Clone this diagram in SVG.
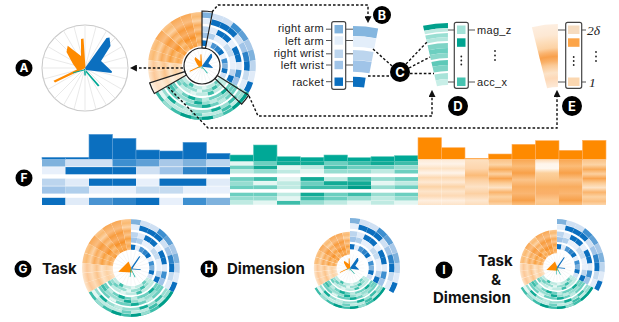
<svg xmlns="http://www.w3.org/2000/svg" width="619" height="322" viewBox="0 0 619 322">
<style>
.t{font-family:"Liberation Sans",Arial,sans-serif;font-size:11px;letter-spacing:.3px;fill:#222}
.bl{font-family:Inter,"Liberation Sans",sans-serif;font-size:15px;font-weight:700;fill:#111}
.it{font-family:"Liberation Serif",serif;font-style:italic;font-size:13.5px;fill:#222}
.lt{font-family:Inter,"Liberation Sans",sans-serif;font-weight:700;fill:#fff;text-anchor:middle}
.dl{fill:none;stroke:#111;stroke-width:1.4;stroke-dasharray:2.6 2}
.tk{stroke:#555;stroke-width:1;fill:none}
.lg{fill:#fff;stroke:#444;stroke-width:1.2}
.hb{fill:none;stroke:#222;stroke-width:1.2}
.sp{stroke:#e6e6e6;stroke-width:0.9;fill:none}
.a{fill:none}
</style>
<defs>
<marker id="ar" viewBox="0 0 8 8" refX="1" refY="4" markerWidth="7" markerHeight="7" markerUnits="userSpaceOnUse" orient="auto"><path d="M0,0L8,4L0,8z" fill="#111"/></marker>
<radialGradient id="og1" gradientUnits="userSpaceOnUse" cx="0" cy="0" r="54"><stop offset=".37" stop-color="#fcc58a"/><stop offset=".45" stop-color="#f9a850"/><stop offset=".52" stop-color="#fbc07e"/><stop offset=".6" stop-color="#f8a040"/><stop offset=".68" stop-color="#fbc48a"/><stop offset=".76" stop-color="#f9ab5a"/><stop offset=".84" stop-color="#fcd2a4"/><stop offset=".92" stop-color="#faba72"/><stop offset="1" stop-color="#fcc890"/></radialGradient>
<radialGradient id="og2" gradientUnits="userSpaceOnUse" cx="0" cy="0" r="54"><stop offset=".37" stop-color="#fde4c8"/><stop offset=".5" stop-color="#fcd1a2"/><stop offset=".6" stop-color="#fde3c6"/><stop offset=".7" stop-color="#fbc38a"/><stop offset=".8" stop-color="#fddcb8"/><stop offset=".9" stop-color="#fcc898"/><stop offset="1" stop-color="#fde6cc"/></radialGradient>
<radialGradient id="og3" gradientUnits="userSpaceOnUse" cx="0" cy="0" r="54"><stop offset=".37" stop-color="#f89a36"/><stop offset=".47" stop-color="#faae5c"/><stop offset=".55" stop-color="#f7922a"/><stop offset=".65" stop-color="#f9b068"/><stop offset=".75" stop-color="#f89c3e"/><stop offset=".85" stop-color="#fabd80"/><stop offset="1" stop-color="#f9a854"/></radialGradient>
<radialGradient id="oE" gradientUnits="userSpaceOnUse" cx="0" cy="0" r="108"><stop offset=".417" stop-color="#fde9d6"/><stop offset=".5" stop-color="#fdd9b8"/><stop offset=".55" stop-color="#fce3c8"/><stop offset=".62" stop-color="#fbc995"/><stop offset=".66" stop-color="#f9b068"/><stop offset=".7" stop-color="#f8a04c"/><stop offset=".74" stop-color="#fab470"/><stop offset=".78" stop-color="#fcd2a4"/><stop offset=".84" stop-color="#fdddba"/><stop offset=".9" stop-color="#fde8d3"/><stop offset="1" stop-color="#fdeee0"/></radialGradient>
<linearGradient id="oh1" x2="0" y2="1"><stop offset="0" stop-color="#fde9d4"/><stop offset=".1" stop-color="#fef3e8"/><stop offset=".2" stop-color="#fde2c4"/><stop offset=".3" stop-color="#fef4ea"/><stop offset=".4" stop-color="#fdd9b2"/><stop offset=".5" stop-color="#fee9d4"/><stop offset=".6" stop-color="#fcd3a6"/><stop offset=".7" stop-color="#fde5cb"/><stop offset=".8" stop-color="#fdd9b4"/><stop offset=".9" stop-color="#feefe0"/><stop offset="1" stop-color="#fde3c8"/></linearGradient>
<linearGradient id="oh2" x2="0" y2="1"><stop offset="0" stop-color="#fbc285"/><stop offset=".12" stop-color="#fcd4a6"/><stop offset=".22" stop-color="#f9ab5a"/><stop offset=".32" stop-color="#fcd0a0"/><stop offset=".42" stop-color="#f9a450"/><stop offset=".52" stop-color="#fccb94"/><stop offset=".62" stop-color="#fde3c6"/><stop offset=".72" stop-color="#fab46c"/><stop offset=".82" stop-color="#fcd2a2"/><stop offset=".92" stop-color="#fbbf80"/><stop offset="1" stop-color="#fcd6ac"/></linearGradient>
<linearGradient id="oh3" x2="0" y2="1"><stop offset="0" stop-color="#f9a650"/><stop offset=".15" stop-color="#fbbc78"/><stop offset=".3" stop-color="#f8a048"/><stop offset=".45" stop-color="#fbc48a"/><stop offset=".6" stop-color="#f9ac5e"/><stop offset=".75" stop-color="#fab672"/><stop offset=".9" stop-color="#f7a04a"/><stop offset="1" stop-color="#fbc080"/></linearGradient>
<linearGradient id="oh4" x2="0" y2="1"><stop offset="0" stop-color="#fdd8b0"/><stop offset=".1" stop-color="#fef5ec"/><stop offset=".2" stop-color="#fef7ef"/><stop offset=".3" stop-color="#fcd09c"/><stop offset=".45" stop-color="#fbc487"/><stop offset=".6" stop-color="#f9ae60"/><stop offset=".75" stop-color="#fab06a"/><stop offset=".9" stop-color="#fcc890"/><stop offset="1" stop-color="#fbc488"/></linearGradient>
<linearGradient id="oh5" x2="0" y2="1"><stop offset="0" stop-color="#fde0c0"/><stop offset=".2" stop-color="#fdd6ae"/><stop offset=".35" stop-color="#fbbb78"/><stop offset=".45" stop-color="#fccfa0"/><stop offset=".6" stop-color="#fde2c6"/><stop offset=".75" stop-color="#fcd0a2"/><stop offset=".9" stop-color="#fde7d0"/><stop offset="1" stop-color="#fdddbb"/></linearGradient>
<rect id="tc" width="23.5" height="3.8"/>
<rect id="bc" width="23.5" height="7.2"/>
<circle id="b1" class="a" r="51" stroke-width="5.6" pathLength="360"/>
<circle id="b2" class="a" r="45" stroke-width="5.6" pathLength="360"/>
<circle id="b3" class="a" r="37" stroke-width="5.6" pathLength="360"/>
<circle id="b4" class="a" r="31" stroke-width="5.6" pathLength="360"/>
<circle id="b5" class="a" r="23" stroke-width="5.6" pathLength="360"/>
<circle id="t0" class="a" r="21.7" stroke-width="3.1" pathLength="360"/>
<circle id="t1" class="a" r="25.1" stroke-width="3.1" pathLength="360"/>
<circle id="t2" class="a" r="28.5" stroke-width="3.1" pathLength="360"/>
<circle id="t3" class="a" r="33.6" stroke-width="3.1" pathLength="360"/>
<circle id="t4" class="a" r="37" stroke-width="3.1" pathLength="360"/>
<circle id="t5" class="a" r="40.4" stroke-width="3.1" pathLength="360"/>
<circle id="t6" class="a" r="45.5" stroke-width="3.1" pathLength="360"/>
<circle id="t7" class="a" r="48.9" stroke-width="3.1" pathLength="360"/>
<circle id="t8" class="a" r="52.3" stroke-width="3.1" pathLength="360"/>
<g id="bs" stroke-dasharray="12 999">
<g transform="rotate(-90)"><use href="#b1" stroke="#7fb2dd"/><use href="#b2" stroke="#e3eefa"/><use href="#b3" stroke="#bcd5ee"/><use href="#b4" stroke="#a0c4e8"/><use href="#b5" stroke="#0b6fbf"/></g>
<g transform="rotate(-78)"><use href="#b1" stroke="#cfe0f3"/><use href="#b2" stroke="#0b6fbf"/><use href="#b3" stroke="#e0ebf8"/><use href="#b4" stroke="#b0cfec"/><use href="#b5" stroke="#e0ebf8"/></g>
<g transform="rotate(-66)"><use href="#b1" stroke="#cfe0f3"/><use href="#b2" stroke="#0b6fbf"/><use href="#b3" stroke="#0b6fbf"/><use href="#b4" stroke="#e8f0fb"/><use href="#b5" stroke="#4a94d2"/></g>
<g transform="rotate(-54)"><use href="#b1" stroke="#3d8fd0"/><use href="#b2" stroke="#0b6fbf"/><use href="#b3" stroke="#0b6fbf"/><use href="#b4" stroke="#e8f0fb"/><use href="#b5" stroke="#2e83c8"/></g>
<g transform="rotate(-42)"><use href="#b1" stroke="#5fa0d6"/><use href="#b2" stroke="#cfe0f3"/><use href="#b3" stroke="#e8f0fb"/><use href="#b4" stroke="#c5dbf0"/><use href="#b5" stroke="#0b6fbf"/></g>
<g transform="rotate(-30)"><use href="#b1" stroke="#a8c8e8"/><use href="#b2" stroke="#a0c4e8"/><use href="#b3" stroke="#0b6fbf"/><use href="#b4" stroke="#c5dbf0"/><use href="#b5" stroke="#e8f0fb"/></g>
<g transform="rotate(-18)"><use href="#b1" stroke="#7fb2dd"/><use href="#b2" stroke="#2e83c8"/><use href="#b3" stroke="#0b6fbf"/><use href="#b4" stroke="#e8f0fb"/><use href="#b5" stroke="#3d8fd0"/></g>
<g transform="rotate(-6)"><use href="#b1" stroke="#bcd5ee"/><use href="#b2" stroke="#0b6fbf"/><use href="#b3" stroke="#e0ebf8"/><use href="#b4" stroke="#e8f0fb"/><use href="#b5" stroke="#7fb2dd"/></g>
<g transform="rotate(6)"><use href="#b1" stroke="#e0ebf8"/><use href="#b2" stroke="#c5dbf0"/><use href="#b3" stroke="#3d8fd0"/><use href="#b4" stroke="#bcd5ee"/><use href="#b5" stroke="#0b6fbf"/></g>
<g transform="rotate(18)"><use href="#b1" stroke="#0b6fbf"/><use href="#b2" stroke="#e0ebf8"/><use href="#b3" stroke="#a0c4e8"/><use href="#b4" stroke="#0b6fbf"/><use href="#b5" stroke="#cfe0f3"/></g>
</g>
<g id="ts">
<g stroke-dasharray="120 999" transform="rotate(30)"><use href="#t0" stroke="#bfeae2"/><use href="#t1" stroke="#97ddd1"/><use href="#t2" stroke="#bfeae2"/><use href="#t3" stroke="#6ccfc0"/><use href="#t4" stroke="#97ddd1"/><use href="#t5" stroke="#6ccfc0"/><use href="#t6" stroke="#97ddd1"/><use href="#t7" stroke="#bfeae2"/><use href="#t8" stroke="#3dbdaa"/></g>
<g stroke-dasharray="12 999">
<use href="#t0" transform="rotate(42)" stroke="#6ccfc0"/><use href="#t0" transform="rotate(78)" stroke="#e3f6f2"/><use href="#t0" transform="rotate(114)" stroke="#3dbdaa"/>
<use href="#t1" transform="rotate(30)" stroke="#bfeae2"/><use href="#t1" transform="rotate(54)" stroke="#3dbdaa"/><use href="#t1" transform="rotate(90)" stroke="#e3f6f2"/><use href="#t1" transform="rotate(126)" stroke="#6ccfc0"/>
<use href="#t2" transform="rotate(66)" stroke="#3dbdaa"/><use href="#t2" transform="rotate(102)" stroke="#e3f6f2"/><use href="#t2" transform="rotate(138)" stroke="#6ccfc0"/>
<use href="#t3" transform="rotate(42)" stroke="#12ab96"/><use href="#t3" transform="rotate(78)" stroke="#bfeae2"/><use href="#t3" transform="rotate(102)" stroke="#12ab96"/><use href="#t3" transform="rotate(126)" stroke="#bfeae2"/>
<use href="#t4" transform="rotate(30)" stroke="#6ccfc0"/><use href="#t4" transform="rotate(66)" stroke="#bfeae2"/><use href="#t4" transform="rotate(90)" stroke="#12ab96"/><use href="#t4" transform="rotate(138)" stroke="#3dbdaa"/>
<use href="#t5" transform="rotate(54)" stroke="#bfeae2"/><use href="#t5" transform="rotate(78)" stroke="#12ab96"/><use href="#t5" transform="rotate(114)" stroke="#e3f6f2"/>
<use href="#t6" transform="rotate(42)" stroke="#3dbdaa"/><use href="#t6" transform="rotate(66)" stroke="#12ab96"/><use href="#t6" transform="rotate(102)" stroke="#bfeae2"/><use href="#t6" transform="rotate(126)" stroke="#12ab96"/>
<use href="#t7" transform="rotate(30)" stroke="#97ddd1"/><use href="#t7" transform="rotate(54)" stroke="#3dbdaa"/><use href="#t7" transform="rotate(90)" stroke="#6ccfc0"/><use href="#t7" transform="rotate(138)" stroke="#e3f6f2"/>
<use href="#t8" transform="rotate(30)" stroke="#009e8a"/><use href="#t8" transform="rotate(42)" stroke="#009e8a"/><use href="#t8" transform="rotate(66)" stroke="#97ddd1"/><use href="#t8" transform="rotate(78)" stroke="#009e8a"/><use href="#t8" transform="rotate(102)" stroke="#009e8a"/><use href="#t8" transform="rotate(126)" stroke="#97ddd1"/>
</g>
</g>
<g id="os" class="a" stroke-width="34" stroke-dasharray="12 999">
<circle r="37" pathLength="360" transform="rotate(150)" stroke="url(#og2)"/>
<circle r="37" pathLength="360" transform="rotate(162)" stroke="url(#og2)"/>
<circle r="37" pathLength="360" transform="rotate(174)" stroke="url(#og2)"/>
<circle r="37" pathLength="360" transform="rotate(186)" stroke="url(#og1)"/>
<circle r="37" pathLength="360" transform="rotate(198)" stroke="url(#og1)"/>
<circle r="37" pathLength="360" transform="rotate(210)" stroke="url(#og3)"/>
<circle r="37" pathLength="360" transform="rotate(222)" stroke="url(#og1)"/>
<circle r="37" pathLength="360" transform="rotate(234)" stroke="url(#og3)"/>
<circle r="37" pathLength="360" transform="rotate(246)" stroke="url(#og3)"/>
<circle r="37" pathLength="360" transform="rotate(258)" stroke="url(#og1)"/>
</g>
<path id="spk" class="sp" d="M0,-43V43M11.1,-41.5L-11.1,41.5M21.5,-37.2L-21.5,37.2M30.4,-30.4L-30.4,30.4M37.2,-21.5L-37.2,21.5M41.5,-11.1L-41.5,11.1M-43,0H43M41.5,11.1L-41.5,-11.1M37.2,21.5L-37.2,-21.5M30.4,30.4L-30.4,-30.4M21.5,37.2L-21.5,-37.2M11.1,41.5L-11.1,-41.5"/>
<g id="gl"><use href="#spk"/>
<path fill="#fe8a00" d="M-4,-29L-1.5,-29.5L0.5,0L-30,14.5L-31.5,12.8L-8,1.5L-12,-4L-18.5,-16L-17.3,-22.3L-4,-12Z"/>
<path fill="#0b6fbf" d="M0,0L21.5,-30L24.5,-30.5L25.5,-22L16,-7L27,3.5L26.5,5L1,2Z"/>
<path fill="#00a896" d="M0,1L14.5,17.5L13,18.5L-1,2ZM-1,1L-0.6,7.5L0.8,7.5L0.6,1ZM0,1.2L-12,4.2L-12,5.2L0,2.2Z"/>
</g>
<g id="gl2"><use href="#spk"/>
<path fill="#fe8a00" d="M-31,9L-6,-16L1,1L2,11Z"/>
<path fill="#0b6fbf" d="M0,0L20,-29L23,-28L3,2ZM1,1L24,3L23.5,5L0,3Z"/>
<path fill="#00a896" d="M0,1L11,22L9.5,23L-1,2ZM-1,2L-3,22L-1.5,22L0.5,2Z"/>
</g>
</defs>

<g id="chartA" transform="translate(85,68)">
<circle r="43" fill="#fff" stroke="#c9c9c9" stroke-width="1.1"/>
<use href="#gl"/>
</g>

<g id="mainRadial" transform="translate(202,66)">
<use href="#bs"/><use href="#ts"/><use href="#os"/>
<circle r="18" fill="#fff" stroke="#222" stroke-width="1.2"/>
<use href="#gl" transform="scale(0.4)"/>
<path class="hb" d="M0,-18L0,-55A55,55 0 0 1 10.49,-53.99L3.43,-17.67A18,18 0 0 0 0,-18Z"/>
<path class="hb" d="M15.26,9.54L46.64,29.14A55,55 0 0 1 39.56,38.21L12.95,12.5A18,18 0 0 0 15.26,9.54Z"/>
<path class="hb" style="fill:#fff;fill-opacity:.4" d="M-15.59,9L-47.63,27.5A55,55 0 0 1 -52.31,17L-17.12,5.56A18,18 0 0 0 -15.59,9Z"/>
</g>

<g id="wedgeB" transform="translate(353,158) rotate(-90)" fill="none" stroke-dasharray="11 999">
<circle r="127" stroke-width="10" stroke="#84b6df" pathLength="360"/>
<circle r="116.5" stroke-width="10.4" stroke="#e3eefa" pathLength="360"/>
<circle r="103" stroke-width="10" stroke="#bcd5ee" pathLength="360"/>
<circle r="92" stroke-width="11.4" stroke="#a0c4e8" pathLength="360"/>
<circle r="76.3" stroke-width="10" stroke="#0b6fbf" pathLength="360" stroke-dasharray="9 999"/>
</g>
<g id="legendB">
<path class="tk" d="M326,29.2H332M346,29.2H353M326,40.5H332M346,40.5H353M326,53.8H332M346,53.8H353M326,65H332M346,65H353M326,81.7H332M346,81.7H353"/>
<rect class="lg" x="331.7" y="21.7" width="14" height="67.6" rx="2"/>
<rect x="334.5" y="25" width="8.5" height="8.4" fill="#7fb2dd"/>
<rect x="334.5" y="36.3" width="8.5" height="8.4" fill="#e3eefa"/>
<rect x="334.5" y="49.6" width="8.5" height="8.4" fill="#bcd5ee"/>
<rect x="334.5" y="60.8" width="8.5" height="8.4" fill="#a0c4e8"/>
<rect x="334.5" y="77.5" width="8.5" height="8.4" fill="#0b6fbf"/>
<g class="t" text-anchor="end">
<text x="324" y="32.2">right arm</text>
<text x="324" y="44.7">left arm</text>
<text x="324" y="56.9">right wrist</text>
<text x="324" y="69.4">left wrist</text>
<text x="324" y="85.6">racket</text>
</g>
</g>

<g id="wedgeD" transform="translate(448,134) rotate(-103)" fill="none" stroke-dasharray="13 999">
<circle r="108.5" stroke-width="5" stroke="#00a08c" pathLength="360"/>
<circle r="104.2" stroke-width="3.5" stroke="#bfeae2" pathLength="360"/>
<circle r="99" stroke-width="4" stroke="#9adfd3" pathLength="360"/>
<circle r="95" stroke-width="4" stroke="#b5e7de" pathLength="360"/>
<circle r="88.5" stroke-width="5" stroke="#7fd4c6" pathLength="360"/>
<circle r="83.5" stroke-width="5" stroke="#6ccfc0" pathLength="360"/>
<circle r="78.5" stroke-width="5" stroke="#8ad8cb" pathLength="360"/>
<circle r="71.5" stroke-width="5" stroke="#5ec9b8" pathLength="360"/>
<circle r="66" stroke-width="6" stroke="#7dd3c5" pathLength="360"/>
<circle r="58" stroke-width="6" stroke="#a8e3d9" pathLength="360"/>
<circle r="52" stroke-width="6" stroke="#c8eee7" pathLength="360"/>
</g>
<g id="legendD">
<path class="tk" d="M448,30H454M468,30H475M448,82H454M468,82H475"/>
<rect class="lg" x="454.3" y="22.3" width="14" height="66" rx="2"/>
<rect x="457" y="25.5" width="8.5" height="8.5" fill="#a3e2d8"/>
<rect x="457" y="38.3" width="8.5" height="8.5" fill="#00a390"/>
<rect x="457" y="77.5" width="8.5" height="8.5" fill="#46c2b0"/>
<g fill="#222"><circle cx="461.3" cy="56.5" r="0.9"/><circle cx="461.3" cy="60.5" r="0.9"/><circle cx="461.3" cy="64.5" r="0.9"/>
<circle cx="495" cy="51" r="0.9"/><circle cx="495" cy="55.5" r="0.9"/><circle cx="495" cy="60" r="0.9"/></g>
<text class="t" x="477" y="34">mag_z</text>
<text class="t" x="477" y="86">acc_x</text>
</g>

<g id="wedgeE" transform="translate(558,132)">
<circle r="76.5" fill="none" stroke-width="63" stroke="url(#oE)" pathLength="360" stroke-dasharray="14 999" transform="rotate(-104)"/>
</g>
<g id="legendE">
<path class="tk" d="M558,30H566M582,30H586M558,82H566M582,82H586"/>
<rect class="lg" x="565.7" y="22.3" width="16" height="66" rx="2"/>
<rect x="568" y="25.5" width="11.5" height="8.5" fill="#f6dcc0"/>
<rect x="568" y="38.3" width="11.5" height="8.5" fill="#fca448"/>
<rect x="568" y="77.5" width="11.5" height="8.5" fill="#fbd7b0"/>
<g fill="#222"><circle cx="573.7" cy="57" r="0.9"/><circle cx="573.7" cy="61" r="0.9"/><circle cx="573.7" cy="65" r="0.9"/>
<circle cx="596" cy="52" r="0.9"/><circle cx="596" cy="56.5" r="0.9"/><circle cx="596" cy="61" r="0.9"/></g>
<text class="it" x="587" y="35">2δ</text>
<text class="it" x="589" y="87">1</text>
</g>

<g id="heatmapF">
<g fill="#0b6fbf" stroke="#5d9fd8" stroke-width="0.6">
<rect x="42" y="157.3" width="23.5" height="2"/><rect x="65.5" y="157.3" width="23.5" height="2"/><rect x="89" y="134.3" width="23.5" height="25"/><rect x="112.5" y="138.3" width="23.5" height="21"/><rect x="136" y="150" width="23.5" height="9.3"/><rect x="159.5" y="151" width="23.5" height="8.3"/><rect x="183" y="142.3" width="23.5" height="17"/><rect x="206.5" y="153.3" width="23.5" height="6"/>
</g>
<g fill="#00a896" stroke="#5cc9b9" stroke-width="0.6">
<rect x="230" y="155" width="23.5" height="6.5"/><rect x="253.5" y="145" width="23.5" height="16.5"/><rect x="277" y="156.7" width="23.5" height="4.8"/><rect x="300.5" y="157.3" width="23.5" height="4.2"/><rect x="324" y="155" width="23.5" height="6.5"/><rect x="347.5" y="157.7" width="23.5" height="3.8"/><rect x="371" y="156.7" width="23.5" height="4.8"/><rect x="394.5" y="155.7" width="23.5" height="5.8"/>
</g>
<g fill="#fe8a00" stroke="#ffb060" stroke-width="0.6">
<rect x="418" y="137.7" width="23.5" height="21.6"/><rect x="441.5" y="147.7" width="23.5" height="11.6"/><rect x="465" y="158.3" width="23.5" height="1"/><rect x="488.5" y="154" width="23.5" height="5.3"/><rect x="512" y="144.3" width="23.5" height="15"/><rect x="535.5" y="140.7" width="23.5" height="18.6"/><rect x="559" y="150.3" width="23.5" height="9"/><rect x="582.5" y="140.3" width="23.5" height="19"/>
</g>
<g>
<use href="#bc" x="42" y="159.3" fill="#7fb2dd"/><use href="#bc" x="65.5" y="159.3" fill="#cfe0f3"/><use href="#bc" x="89" y="159.3" fill="#cfe0f3"/><use href="#bc" x="112.5" y="159.3" fill="#3d8fd0"/><use href="#bc" x="136" y="159.3" fill="#5fa0d6"/><use href="#bc" x="159.5" y="159.3" fill="#a8c8e8"/><use href="#bc" x="183" y="159.3" fill="#7fb2dd"/><use href="#bc" x="206.5" y="159.3" fill="#bcd5ee"/>
<use href="#bc" x="42" y="167.1" fill="#e8f0fb"/><use href="#bc" x="65.5" y="167.1" fill="#0b6fbf"/><use href="#bc" x="89" y="167.1" fill="#0b6fbf"/><use href="#bc" x="112.5" y="167.1" fill="#0b6fbf"/><use href="#bc" x="136" y="167.1" fill="#cfe0f3"/><use href="#bc" x="159.5" y="167.1" fill="#a0c4e8"/><use href="#bc" x="183" y="167.1" fill="#2e83c8"/><use href="#bc" x="206.5" y="167.1" fill="#0b6fbf"/>
<use href="#bc" x="42" y="178.6" fill="#bcd5ee"/><use href="#bc" x="65.5" y="178.6" fill="#e0ebf8"/><use href="#bc" x="89" y="178.6" fill="#0b6fbf"/><use href="#bc" x="112.5" y="178.6" fill="#0b6fbf"/><use href="#bc" x="136" y="178.6" fill="#e8f0fb"/><use href="#bc" x="159.5" y="178.6" fill="#0b6fbf"/><use href="#bc" x="183" y="178.6" fill="#0b6fbf"/><use href="#bc" x="206.5" y="178.6" fill="#e0ebf8"/>
<use href="#bc" x="42" y="186.4" fill="#a0c4e8"/><use href="#bc" x="65.5" y="186.4" fill="#b0cfec"/><use href="#bc" x="89" y="186.4" fill="#e8f0fb"/><use href="#bc" x="112.5" y="186.4" fill="#e8f0fb"/><use href="#bc" x="136" y="186.4" fill="#c5dbf0"/><use href="#bc" x="159.5" y="186.4" fill="#c5dbf0"/><use href="#bc" x="183" y="186.4" fill="#e8f0fb"/><use href="#bc" x="206.5" y="186.4" fill="#e8f0fb"/>
<use href="#bc" x="42" y="197.8" fill="#0b6fbf"/><use href="#bc" x="65.5" y="197.8" fill="#e0ebf8"/><use href="#bc" x="89" y="197.8" fill="#4a94d2"/><use href="#bc" x="112.5" y="197.8" fill="#2e83c8"/><use href="#bc" x="136" y="197.8" fill="#0b6fbf"/><use href="#bc" x="159.5" y="197.8" fill="#e8f0fb"/><use href="#bc" x="183" y="197.8" fill="#3d8fd0"/><use href="#bc" x="206.5" y="197.8" fill="#7fb2dd"/>
</g>
<g transform="translate(230)"><use href="#tc" y="161.5" fill="#e3f6f2"/><use href="#tc" y="165.6" fill="#6ccfc0"/><use href="#tc" y="169.7" fill="#bfeae2"/><use href="#tc" y="177.1" fill="#6ccfc0"/><use href="#tc" y="181.2" fill="#97ddd1"/><use href="#tc" y="185.3" fill="#6ccfc0"/><use href="#tc" y="192.7" fill="#6ccfc0"/><use href="#tc" y="196.8" fill="#97ddd1"/><use href="#tc" y="200.9" fill="#bfeae2"/></g>
<g transform="translate(253.5)"><use href="#tc" y="161.5" fill="#6ccfc0"/><use href="#tc" y="165.6" fill="#12ab96"/><use href="#tc" y="169.7" fill="#97ddd1"/><use href="#tc" y="177.1" fill="#3dbdaa"/><use href="#tc" y="181.2" fill="#e3f6f2"/><use href="#tc" y="185.3" fill="#6ccfc0"/><use href="#tc" y="192.7" fill="#6ccfc0"/><use href="#tc" y="196.8" fill="#97ddd1"/><use href="#tc" y="200.9" fill="#e3f6f2"/></g>
<g transform="translate(277)"><use href="#tc" y="161.5" fill="#12ab96"/><use href="#tc" y="165.6" fill="#e3f6f2"/><use href="#tc" y="169.7" fill="#bfeae2"/><use href="#tc" y="177.1" fill="#e3f6f2"/><use href="#tc" y="181.2" fill="#bfeae2"/><use href="#tc" y="185.3" fill="#bfeae2"/><use href="#tc" y="192.7" fill="#bfeae2"/><use href="#tc" y="196.8" fill="#e3f6f2"/><use href="#tc" y="200.9" fill="#3dbdaa"/></g>
<g transform="translate(300.5)"><use href="#tc" y="161.5" fill="#12ab96"/><use href="#tc" y="165.6" fill="#bfeae2"/><use href="#tc" y="169.7" fill="#e3f6f2"/><use href="#tc" y="177.1" fill="#12ab96"/><use href="#tc" y="181.2" fill="#6ccfc0"/><use href="#tc" y="185.3" fill="#3dbdaa"/><use href="#tc" y="192.7" fill="#12ab96"/><use href="#tc" y="196.8" fill="#3dbdaa"/><use href="#tc" y="200.9" fill="#97ddd1"/></g>
<g transform="translate(324)"><use href="#tc" y="161.5" fill="#6ccfc0"/><use href="#tc" y="165.6" fill="#3dbdaa"/><use href="#tc" y="169.7" fill="#97ddd1"/><use href="#tc" y="177.1" fill="#bfeae2"/><use href="#tc" y="181.2" fill="#12ab96"/><use href="#tc" y="185.3" fill="#3dbdaa"/><use href="#tc" y="192.7" fill="#6ccfc0"/><use href="#tc" y="196.8" fill="#6ccfc0"/><use href="#tc" y="200.9" fill="#bfeae2"/></g>
<g transform="translate(347.5)"><use href="#tc" y="161.5" fill="#3dbdaa"/><use href="#tc" y="165.6" fill="#6ccfc0"/><use href="#tc" y="169.7" fill="#97ddd1"/><use href="#tc" y="177.1" fill="#3dbdaa"/><use href="#tc" y="181.2" fill="#12ab96"/><use href="#tc" y="185.3" fill="#009e8a"/><use href="#tc" y="192.7" fill="#3dbdaa"/><use href="#tc" y="196.8" fill="#97ddd1"/><use href="#tc" y="200.9" fill="#e3f6f2"/></g>
<g transform="translate(371)"><use href="#tc" y="161.5" fill="#12ab96"/><use href="#tc" y="165.6" fill="#6ccfc0"/><use href="#tc" y="169.7" fill="#bfeae2"/><use href="#tc" y="177.1" fill="#97ddd1"/><use href="#tc" y="181.2" fill="#e3f6f2"/><use href="#tc" y="185.3" fill="#97ddd1"/><use href="#tc" y="192.7" fill="#97ddd1"/><use href="#tc" y="196.8" fill="#bfeae2"/><use href="#tc" y="200.9" fill="#bfeae2"/></g>
<g transform="translate(394.5)"><use href="#tc" y="161.5" fill="#3dbdaa"/><use href="#tc" y="165.6" fill="#97ddd1"/><use href="#tc" y="169.7" fill="#6ccfc0"/><use href="#tc" y="177.1" fill="#6ccfc0"/><use href="#tc" y="181.2" fill="#bfeae2"/><use href="#tc" y="185.3" fill="#6ccfc0"/><use href="#tc" y="192.7" fill="#6ccfc0"/><use href="#tc" y="196.8" fill="#97ddd1"/><use href="#tc" y="200.9" fill="#e3f6f2"/></g>
<rect x="418" y="159.3" width="23.5" height="45.7" fill="url(#oh1)"/><rect x="441.5" y="159.3" width="23.5" height="45.7" fill="url(#oh1)"/><rect x="465" y="159.3" width="23.5" height="45.7" fill="url(#oh5)"/><rect x="488.5" y="159.3" width="23.5" height="45.7" fill="url(#oh2)"/><rect x="512" y="159.3" width="23.5" height="45.7" fill="url(#oh3)"/><rect x="535.5" y="159.3" width="23.5" height="45.7" fill="url(#oh4)"/><rect x="559" y="159.3" width="23.5" height="45.7" fill="url(#oh3)"/><rect x="582.5" y="159.3" width="23.5" height="45.7" fill="url(#oh2)"/>
</g>

<g id="chartG" transform="translate(131,268) scale(0.907)">
<use href="#bs"/><use href="#ts"/><use href="#os"/>
<use href="#gl2" transform="scale(0.45)"/>
</g>
<g id="chartH" transform="translate(350,268)">
<use href="#bs" transform="scale(0.93)"/><use href="#ts" transform="scale(0.76)"/><use href="#os" transform="scale(0.67)"/>
<use href="#gl" transform="scale(0.33)"/>
</g>
<g id="chartI" transform="translate(557,267)">
<use href="#bs" transform="scale(0.89)"/><use href="#ts" transform="scale(0.78)"/><use href="#os" transform="scale(0.69)"/>
<use href="#gl2" transform="scale(0.34)"/>
</g>

<g id="captions">
<text class="bl" x="42" y="274">Task</text>
<text class="bl" x="227" y="274">Dimension</text>
<text class="bl" x="478" y="266">Task</text>
<text class="bl" x="496" y="285" text-anchor="middle">&amp;</text>
<text class="bl" x="433" y="302.5">Dimension</text>
</g>

<g id="badges">
<g id="badgeA"><circle cx="24" cy="68" r="8.5"/><text class="lt" x="24" y="72.3" font-size="12">A</text></g>
<g id="badgeB"><circle cx="382" cy="15" r="9"/><text class="lt" x="382" y="19.5" font-size="12.5">B</text></g>
<g id="badgeC"><circle cx="400" cy="72" r="10"/><text class="lt" x="400" y="76.7" font-size="13">C</text></g>
<g id="badgeD"><circle cx="458" cy="106" r="10"/><text class="lt" x="458" y="110.7" font-size="13">D</text></g>
<g id="badgeE"><circle cx="572" cy="106" r="10"/><text class="lt" x="572" y="110.7" font-size="13">E</text></g>
<g id="badgeF"><circle cx="24" cy="178" r="8.5"/><text class="lt" x="24" y="182.3" font-size="12">F</text></g>
<g id="badgeG"><circle cx="23" cy="269" r="8.5"/><text class="lt" x="23" y="273.3" font-size="12">G</text></g>
<g id="badgeH"><circle cx="209" cy="269" r="8.5"/><text class="lt" x="209" y="273.3" font-size="12">H</text></g>
<g id="badgeI"><circle cx="444" cy="270" r="8.5"/><text class="lt" x="444" y="274.3" font-size="12">I</text></g>
</g>

<g id="connectors">
<path class="dl" d="M183,68H136" marker-end="url(#ar)"/>
<path class="dl" d="M212,12L218,5H368V17" marker-end="url(#ar)"/>
<path class="dl" d="M249,96L258,116H432V96" marker-end="url(#ar)"/>
<path class="dl" d="M168,87L208,128H557V96" marker-end="url(#ar)"/>
<path class="dl" d="M373,49L392,66M368,76H390"/>
<path class="dl" d="M406,64L427,42M409,68L430,57M410,73.5H434"/>
</g>
</svg>
